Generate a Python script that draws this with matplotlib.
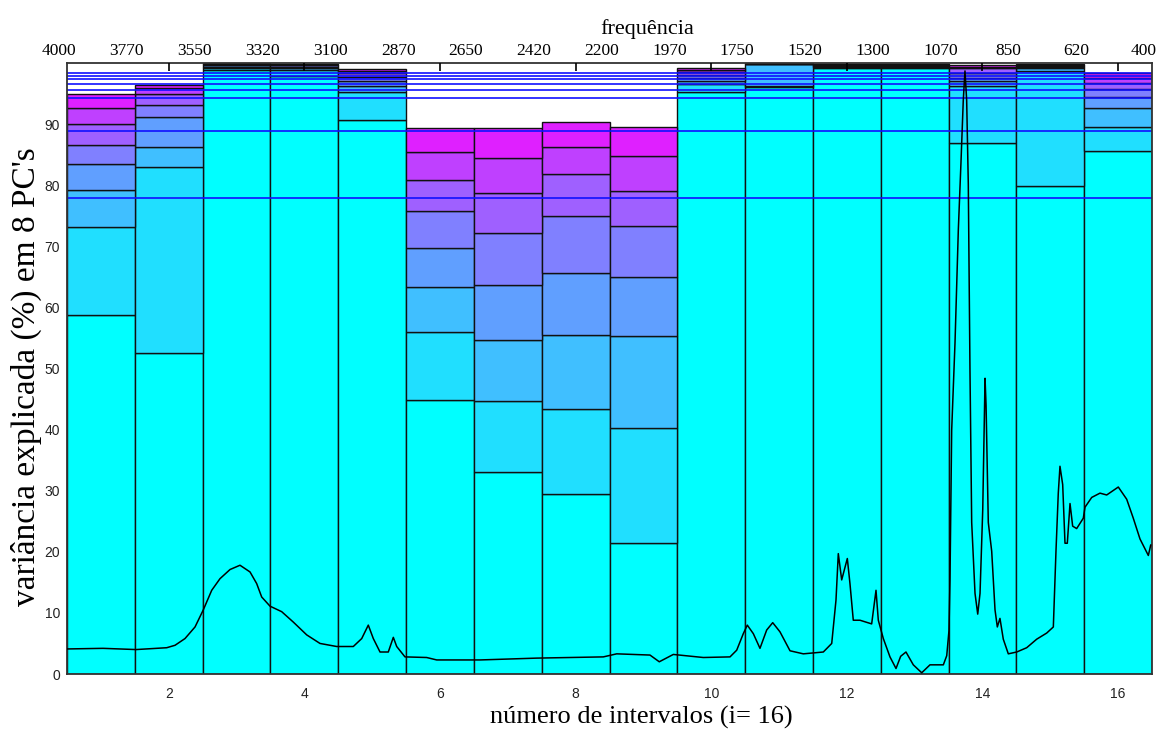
import matplotlib
matplotlib.use("Agg")
import matplotlib.pyplot as plt
import matplotlib.transforms as mtransforms
import numpy as np

# cumulative explained variance (%) per interval, PC1..PC8
pc_cum_1 = [58.7, 52.6, 98.9, 97.8, 90.7, 44.8, 33.0, 29.4, 21.4, 95.3, 96.0, 99.2, 99.2, 86.9, 79.9, 85.6]
pc_cum_2 = [73.1, 83.0, 99.2, 98.9, 95.3, 55.9, 44.6, 43.3, 40.2, 96.5, 96.2, 99.4, 99.4, 96.2, 98.7, 89.5]
pc_cum_3 = [79.2, 86.2, 99.4, 99.2, 96.2, 63.4, 54.7, 55.5, 55.4, 97.0, 99.8, 99.5, 99.5, 97.0, 99.1, 92.7]
pc_cum_4 = [83.4, 91.2, 99.6, 99.4, 97.0, 69.7, 63.7, 65.6, 64.9, 97.6, 99.85, 99.6, 99.6, 97.6, 99.3, 94.5]
pc_cum_5 = [86.6, 93.2, 99.7, 99.6, 97.7, 75.8, 72.2, 75.0, 73.3, 98.1, 99.9, 99.7, 99.7, 98.3, 99.5, 95.8]
pc_cum_6 = [90.0, 94.9, 99.8, 99.7, 98.3, 80.9, 78.7, 81.8, 79.1, 98.5, 99.92, 99.8, 99.8, 99.1, 99.6, 96.7]
pc_cum_7 = [92.6, 95.9, 99.9, 99.8, 98.7, 85.5, 84.5, 86.2, 84.7, 98.8, 99.95, 99.85, 99.85, 99.4, 99.7, 97.6]
pc_cum_8 = [94.9, 96.4, 100.0, 99.9, 99.0, 89.4, 89.3, 90.3, 89.6, 99.1, 99.98, 99.9, 99.9, 99.7, 99.8, 98.3]

# full spectrum model, cumulative variance for PC1..PC8
global_cum = [77.9, 88.9, 94.2, 95.6, 96.6, 97.3, 97.9, 98.4]

intervals = np.arange(1, 17)
freq_labels = ['4000', '3770', '3550', '3320', '3100', '2870', '2650', '2420', '2200',
               '1970', '1750', '1520', '1300', '1070', '850', '620', '400']

# spectrum (x in interval units, y on the % scale)
spec_x = [0.504, 1.031, 1.518, 1.970, 2.093, 2.240, 2.388, 2.510, 2.634, 2.756, 2.904, 3.051,
          3.199, 3.297, 3.371, 3.494, 3.666, 3.837, 4.035, 4.231, 4.477, 4.722, 4.846, 4.943,
          5.017, 5.116, 5.238, 5.312, 5.362, 5.484, 5.804, 5.952, 6.590, 7.427, 8.409, 8.606,
          9.097, 9.234, 9.441, 9.883, 10.277, 10.376, 10.473, 10.532, 10.621, 10.719, 10.818,
          10.907, 11.014, 11.162, 11.358, 11.653, 11.777, 11.840, 11.874, 11.924, 12.007,
          12.046, 12.095, 12.194, 12.366, 12.430, 12.464, 12.538, 12.636, 12.725, 12.794,
          12.872, 12.980, 13.104, 13.226, 13.423, 13.473, 13.506, 13.521, 13.546, 13.595,
          13.644, 13.683, 13.717, 13.742, 13.767, 13.791, 13.816, 13.841, 13.890, 13.930,
          13.964, 14.004, 14.038, 14.053, 14.086, 14.136, 14.185, 14.219, 14.258, 14.307,
          14.381, 14.505, 14.652, 14.800, 14.947, 15.045, 15.084, 15.118, 15.143, 15.183,
          15.217, 15.251, 15.291, 15.330, 15.389, 15.487, 15.512, 15.611, 15.733, 15.832,
          16.003, 16.127, 16.224, 16.323, 16.446, 16.481]
spec_y = [4.1, 4.2, 4.0, 4.3, 4.7, 5.8, 7.7, 10.5, 13.7, 15.6, 17.1, 17.8,
          16.7, 14.8, 12.6, 11.1, 10.2, 8.5, 6.4, 5.0, 4.5, 4.5, 5.8, 8.0,
          5.8, 3.6, 3.6, 6.0, 4.5, 2.8, 2.7, 2.3, 2.3, 2.6, 2.8, 3.3,
          3.1, 2.0, 3.2, 2.7, 2.8, 3.9, 6.6, 8.0, 6.6, 4.2, 7.2,
          8.4, 6.9, 3.8, 3.3, 3.6, 5.0, 12.1, 19.7, 15.4, 18.9,
          14.8, 8.8, 8.8, 8.2, 13.7, 8.8, 5.8, 2.8, 0.9, 2.9,
          3.6, 1.5, 0.2, 1.5, 1.5, 3.0, 7.1, 15.3, 39.9, 54.2,
          72.7, 83.7, 93.9, 98.7, 93.9, 80.2, 49.5, 24.8, 13.2, 9.8,
          13.2, 26.9, 48.4, 44.0, 24.8, 20.1, 10.5, 7.7, 9.1, 5.7,
          3.3, 3.6, 4.3, 5.7, 6.7, 7.7, 20.1, 29.6, 34.0, 31.0,
          21.4, 21.4, 27.9, 24.2, 23.8, 25.5, 27.3, 28.9, 29.6, 29.3,
          30.6, 28.6, 25.5, 22.1, 19.4, 21.1]

serif = 'Liberation Serif'
sans = 'Liberation Sans'

fig = plt.figure(figsize=(11.64, 7.31), dpi=100)
ax = fig.add_axes([67 / 1164, 1 - 674 / 731, (1152 - 67) / 1164, (674 - 63) / 731])

cums = np.array([pc_cum_1, pc_cum_2, pc_cum_3, pc_cum_4, pc_cum_5, pc_cum_6, pc_cum_7, pc_cum_8])
bottom = np.zeros(16)
for k in range(8):
    t = k / 8
    col = (t, 1 - t, 1.0)
    h = cums[k] - bottom
    ax.bar(intervals, h, width=1.0, bottom=bottom, color=col, edgecolor='#111111',
           linewidth=1.0, zorder=1)
    bottom = cums[k]

for g in global_cum:
    ax.axhline(g, color='#1010ff', lw=1.2, zorder=2)

ax.plot(spec_x, spec_y, color='black', lw=1.1, zorder=3)

ax.set_xlim(0.5, 16.5)
ax.set_ylim(0, 100)
ax.set_xticks(np.arange(2, 17, 2))
ax.set_yticks(np.arange(0, 91, 10))
ax.tick_params(axis='both', length=0, labelsize=10, colors='#222222')
ax.tick_params(axis='x', pad=9)
ax.tick_params(axis='y', pad=5)
for lab in ax.get_xticklabels() + ax.get_yticklabels():
    lab.set_family(sans)

for sp in ax.spines.values():
    sp.set_color('#333333')
    sp.set_linewidth(1.3)

ax.set_xlabel('número de intervalos (i= 16)', family=serif, fontsize=19, labelpad=4)
ax.xaxis.label.set_x(0.529)
ax.set_ylabel("variância explicada (%) em 8 PC's", family=serif, fontsize=24, labelpad=2)
ax.yaxis.label.set_y(0.486)

top = ax.twiny()
top.set_xlim(0.5, 16.5)
top.set_xticks(np.arange(0.5, 17.0, 1.0))
top.set_xticklabels(freq_labels, family=serif, fontsize=12.5)
top.set_xticks(np.arange(2, 17, 2), minor=True)
top.tick_params(axis='x', which='major', length=0, pad=3)
top.tick_params(axis='x', which='minor', direction='in', length=6, width=1.2, color='black')
shift = mtransforms.ScaledTranslation(-8 / 100, 0, fig.dpi_scale_trans)
for lab in top.get_xticklabels():
    lab.set_transform(lab.get_transform() + shift)
top.set_xlabel('frequência', family=serif, fontsize=16, labelpad=6)
top.xaxis.label.set_x(0.535)
for sp in top.spines.values():
    sp.set_visible(False)

fig.savefig('out.png', dpi=100)
